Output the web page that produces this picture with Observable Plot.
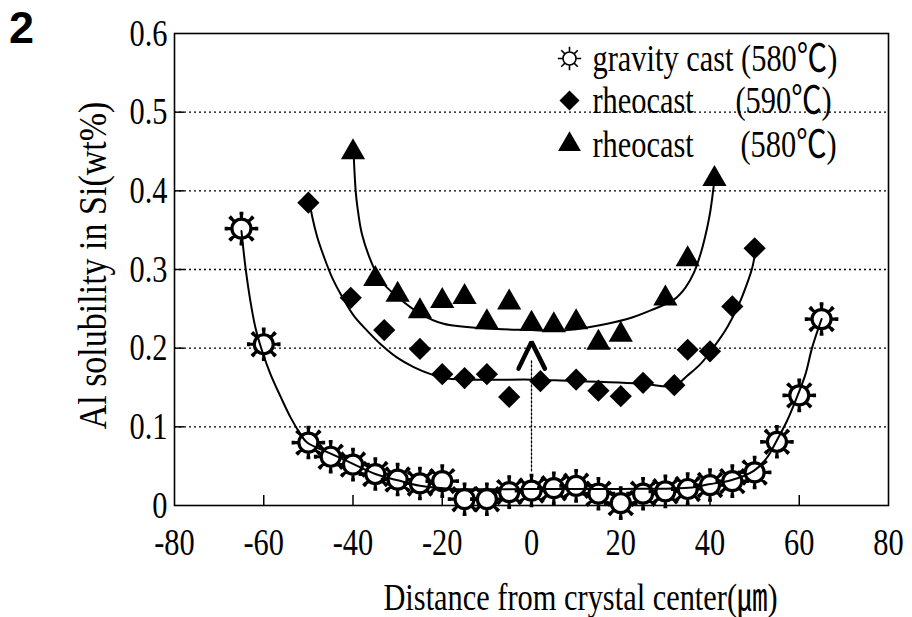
<!DOCTYPE html>
<html>
<head>
<meta charset="utf-8">
<script src="https://cdn.jsdelivr.net/npm/d3@7"></script>
<script src="https://cdn.jsdelivr.net/npm/@observablehq/plot@0.6"></script>
<style>
  html, body { margin: 0; padding: 0; background: #fff; }
  #fig { position: relative; width: 912px; height: 617px; overflow: hidden; }
  #fig .num { position: absolute; left: 9px; top: 3px; font: bold 45px/50px "Liberation Sans", Arial, sans-serif; color: #000; }
  #chart svg text { font-family: "Liberation Serif", "Noto Sans CJK JP", serif; font-size: 38px; fill: #000; }
  #chart svg text.ytitle { font-size: 40px; }
</style>
</head>
<body>
<div id="fig"><div id="chart"></div><div class="num">2</div></div>
<script>
// ---- data ----
const xTicks = [-80, -60, -40, -20, 0, 20, 40, 60, 80];
const yTicks = [0, 0.1, 0.2, 0.3, 0.4, 0.5, 0.6];
const gridY = [0.1, 0.2, 0.3, 0.4, 0.5];
const xInnerTicks = [-60, -40, -20, 0, 20, 40, 60];

// gravity cast (580℃)
const gravityX = [-65, -60, -50, -45, -40, -35, -30, -25, -20, -15, -10, -5, 0, 5, 10, 15, 20, 25, 30, 35, 40, 45, 50, 55, 60, 65];
const gravityY = [0.352, 0.205, 0.080, 0.062, 0.052, 0.040, 0.033, 0.028, 0.031, 0.008, 0.008, 0.017, 0.019, 0.022, 0.025, 0.015, 0.003, 0.015, 0.018, 0.021, 0.026, 0.031, 0.042, 0.081, 0.140, 0.237];
// rheocast (590℃)
const rheo590X = [-50, -40.5, -33, -25, -20, -15, -10, -5, 2, 10, 15, 20, 25, 32, 35, 40, 45, 50];
const rheo590Y = [0.385, 0.264, 0.223, 0.199, 0.167, 0.162, 0.167, 0.138, 0.158, 0.160, 0.146, 0.139, 0.156, 0.153, 0.198, 0.196, 0.253, 0.327];
// rheocast (580℃)
const rheo580X = [-40, -35, -30, -25, -20, -15, -10, -5, 0, 5, 10, 15, 20, 30, 35, 41];
const rheo580Y = [0.449, 0.288, 0.268, 0.247, 0.260, 0.265, 0.233, 0.258, 0.231, 0.229, 0.233, 0.207, 0.217, 0.263, 0.313, 0.415];

// fitted curves
const gravityFitX = [-65, -64.1, -63, -61.9, -60.4, -58.5, -56.2, -54, -51.8, -50.3, -45, -40, -35, -30, -25, -17.5, 0, 20, 36, 39.7, 44.7, 49.8, 52.8, 55, 57.3, 59.5, 61.4, 62.9, 65];
const gravityFitY = [0.349, 0.303, 0.260, 0.227, 0.197, 0.167, 0.138, 0.112, 0.091, 0.080, 0.066, 0.053, 0.040, 0.032, 0.025, 0.021, 0.021, 0.021, 0.023, 0.027, 0.032, 0.044, 0.061, 0.083, 0.108, 0.138, 0.167, 0.201, 0.237];
const rheo590FitX = [-49.7, -49.1, -48, -46.5, -44.7, -42.4, -39.8, -36.8, -33.8, -30.1, -26.4, -22.6, -19.7, -13.7, 0, 6.5, 24.4, 31.9, 34.9, 37.9, 40.8, 43.9, 46.5, 48.3, 49.5, 50.2];
const rheo590FitY = [0.385, 0.366, 0.341, 0.316, 0.290, 0.265, 0.241, 0.222, 0.205, 0.188, 0.176, 0.167, 0.162, 0.160, 0.160, 0.159, 0.155, 0.152, 0.165, 0.180, 0.201, 0.227, 0.256, 0.282, 0.303, 0.324];
const rheo580FitX = [-39.8, -39.4, -39, -38, -36, -33.8, -30, -25, -19.7, -10, 0, 5, 10, 17, 22, 26.7, 32, 34.5, 36.4, 38, 39.4, 40.1, 40.7, 41];
const rheo580FitY = [0.440, 0.400, 0.379, 0.345, 0.311, 0.286, 0.265, 0.244, 0.231, 0.225, 0.223, 0.222, 0.224, 0.231, 0.238, 0.248, 0.262, 0.277, 0.296, 0.322, 0.354, 0.375, 0.400, 0.415];

// annotation at the crystal center
const pointerX = [0, 0];
const pointerY = [0.044, 0.184];
const caretX = [-2.9, 0, 3.0];
const caretY = [0.174, 0.208, 0.174];

// legend
const legendNames = ["gravity cast (580\u2103)", "rheocast", "rheocast"];
const legendTemps = ["", "(590\u2103)", "(580\u2103)"];

// ---- build ----
const zip = (xs, ys) => xs.map((x, i) => ({x, y: ys[i]}));
const gravity = zip(gravityX, gravityY);
const rheo590 = zip(rheo590X, rheo590Y);
const rheo580 = zip(rheo580X, rheo580Y);
const gravityFit = zip(gravityFitX, gravityFitY);
const rheo590Fit = zip(rheo590FitX, rheo590FitY);
const rheo580Fit = zip(rheo580FitX, rheo580FitY);
const pointer = zip(pointerX, pointerY);
const caret = zip(caretX, caretY);

const W = 912, H = 617, mL = 174, mR = 24, mT = 33, mB = 112;
const frameW = W - mL - mR, frameH = H - mT - mB;

function sun(ray, bar) {
  return {
    draw(context, size) {
      const r = Math.sqrt(size / Math.PI);
      context.moveTo(r, 0);
      context.arc(0, 0, r, 0, 2 * Math.PI);
      for (let k = 0; k < 8; k++) {
        const a = k * Math.PI / 4, c = Math.cos(a), s = Math.sin(a);
        context.moveTo(r * c, r * s);
        context.lineTo(r * ray * c, r * ray * s);
        if (bar) {
          const w = r * bar;
          context.moveTo(r * ray * c - w * s, r * ray * s + w * c);
          context.lineTo(r * ray * c + w * s, r * ray * s - w * c);
        }
      }
    }
  };
}

const legendMarks = [];
const legendSymbols = [
  {symbol: sun(1.8, 0), r: 6.5, fill: "white", stroke: "black", strokeWidth: 1.6},
  {symbol: "diamond2", r: 9, fill: "black"},
  {symbol: "triangle", r: 8.5, fill: "black"}
];
const rowDy = [25, 67, 111];
const tempDx = [0, 561, 566];
legendNames.forEach((name, i) => {
  legendMarks.push(Plot.dot([name], {frameAnchor: "top-left", dx: 395, dy: rowDy[i], ...legendSymbols[i]}));
  legendMarks.push(Plot.text([name], {frameAnchor: "top-left", dx: 418, dy: rowDy[i], text: d => d, textAnchor: "start", lineAnchor: "middle"}));
  if (legendTemps[i]) legendMarks.push(Plot.text([legendTemps[i]], {frameAnchor: "top-left", dx: tempDx[i], dy: rowDy[i], text: d => d, textAnchor: "start", lineAnchor: "middle"}));
});

const chart = Plot.plot({
  width: W, height: H,
  marginLeft: mL, marginRight: mR, marginTop: mT, marginBottom: mB,
  style: {fontFamily: "'Liberation Serif', serif", fontSize: "38px", color: "#000", background: "#fff", overflow: "visible"},
  x: {domain: [-80, 80], ticks: xTicks, tickSize: 0, tickPadding: 23, label: null, tickFormat: d => String(d)},
  y: {domain: [0, 0.6], ticks: yTicks, tickSize: 0, tickPadding: 7, label: null, tickFormat: d => d === 0 ? "0" : d.toFixed(1)},
  marks: [
    Plot.ruleY(gridY, {stroke: "#000", strokeWidth: 1.3, strokeDasharray: "2,3"}),
    Plot.ruleX(xInnerTicks, {stroke: "#000", strokeWidth: 1.5, insetTop: frameH - 10}),
    Plot.ruleY(gridY, {stroke: "#000", strokeWidth: 1.5, insetRight: frameW - 10}),
    Plot.frame({stroke: "#000", strokeWidth: 1.6}),
    Plot.line(pointer, {x: "x", y: "y", stroke: "#000", strokeWidth: 1.3, strokeDasharray: "2,2"}),
    Plot.line(caret, {x: "x", y: "y", stroke: "#000", strokeWidth: 4.5, strokeLinejoin: "miter"}),
    Plot.line(rheo590Fit, {x: "x", y: "y", curve: "catmull-rom", stroke: "#000", strokeWidth: 2}),
    Plot.line(rheo580Fit, {x: "x", y: "y", curve: "catmull-rom", stroke: "#000", strokeWidth: 2}),
    Plot.dot(rheo590, {x: "x", y: "y", symbol: "diamond2", r: 10, fill: "#000"}),
    Plot.dot(rheo580, {x: "x", y: "y", symbol: "triangle", r: 9, fill: "#000"}),
    Plot.dot(gravity, {x: "x", y: "y", symbol: sun(1.6, 0.2), r: 9.5, fill: "#fff", stroke: "#000", strokeWidth: 3.2}),
    Plot.line(gravityFit, {x: "x", y: "y", curve: "catmull-rom", stroke: "#000", strokeWidth: 2}),
    ...legendMarks,
    Plot.text(["Distance from crystal center(\u339B)"], {frameAnchor: "bottom", dx: 49, dy: 92, lineAnchor: "middle", text: d => d}),
    Plot.text(["Al solubility in Si(wt%)"], {frameAnchor: "left", dx: -81, dy: -4, rotate: -90, textAnchor: "middle", lineAnchor: "middle", text: d => d})
  ]
});
document.getElementById("chart").appendChild(chart);

// mark the y-axis title so it can be a little larger
chart.querySelectorAll("text").forEach(t => { if (t.textContent.startsWith("Al solubility")) t.classList.add("ytitle"); });

// condensed look of the original typeface: squeeze glyphs horizontally (positions untouched)
chart.querySelectorAll("text").forEach(t => {
  const squeeze = t.classList.contains("ytitle") ? 0.85 : 0.8;
  const len = t.getComputedTextLength();
  if (len > 0) {
    t.setAttribute("textLength", (len * squeeze).toFixed(2));
    t.setAttribute("lengthAdjust", "spacingAndGlyphs");
  }
});
</script>
</body>
</html>
